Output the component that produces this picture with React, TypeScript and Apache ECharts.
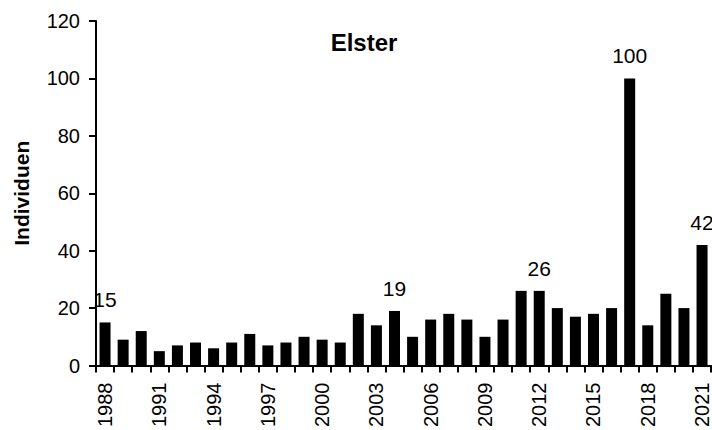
import React, { useEffect, useRef } from "react";
import * as echarts from "echarts";

const years: string[] = [
  "1988", "1989", "1990", "1991", "1992", "1993", "1994", "1995", "1996", "1997",
  "1998", "1999", "2000", "2001", "2002", "2003", "2004", "2005", "2006", "2007",
  "2008", "2009", "2010", "2011", "2012", "2013", "2014", "2015", "2016", "2017",
  "2018", "2019", "2020", "2021",
];
const individuals: number[] = [
  15, 9, 12, 5, 7, 8, 6, 8, 11, 7,
  8, 10, 9, 8, 18, 14, 19, 10, 16, 18,
  16, 10, 16, 26, 26, 20, 17, 18, 20, 100,
  14, 25, 20, 42,
];
const labeledYears: string[] = ["1988", "2004", "2012", "2017", "2021"];
const yTicks = { min: 0, max: 120, interval: 20 };
const titleText = "Elster";
const yAxisName = "Individuen";

const FONT = "'Liberation Sans', Arial, sans-serif";

export default function App() {
  const ref = useRef<HTMLDivElement>(null);
  useEffect(() => {
    if (!ref.current) return;
    const chart = echarts.init(ref.current, undefined, { renderer: "svg" });
    chart.setOption({
      animation: false,
      backgroundColor: "#ffffff",
      title: {
        text: titleText,
        left: 359,
        top: 25,
        textAlign: "center",
        textStyle: { fontFamily: FONT, fontSize: 24, fontWeight: "bold", color: "#000" },
      },
      grid: { left: 96, top: 21, width: 618, height: 345, containLabel: false },
      xAxis: {
        type: "category",
        data: years,
        boundaryGap: true,
        axisLine: { lineStyle: { color: "#000", width: 2 } },
        axisTick: { show: true, interval: 0, length: 7, lineStyle: { color: "#000", width: 2 } },
        axisLabel: {
          interval: 2,
          rotate: 90,
          margin: 17,
          fontFamily: FONT,
          fontSize: 20,
          color: "#000",
        },
      },
      yAxis: {
        type: "value",
        min: yTicks.min,
        max: yTicks.max,
        interval: yTicks.interval,
        name: yAxisName,
        nameLocation: "middle",
        nameGap: 64,
        nameTextStyle: { fontFamily: FONT, fontSize: 21, fontWeight: "bold", color: "#000" },
        axisLine: { show: true, lineStyle: { color: "#000", width: 2 } },
        axisTick: { show: true, length: 7, lineStyle: { color: "#000", width: 2 } },
        axisLabel: { margin: 16, fontFamily: FONT, fontSize: 20, color: "#000" },
        splitLine: { show: false },
      },
      series: [
        {
          type: "bar",
          barWidth: 11,
          itemStyle: { color: "#000" },
          data: individuals.map((v, i) => ({
            value: v,
            label: {
              show: labeledYears.includes(years[i]),
              position: "top",
              distance: 12,
              fontFamily: FONT,
              fontSize: 21,
              color: "#000",
            },
          })),
        },
      ],
    });
    return () => chart.dispose();
  }, []);
  return <div ref={ref} style={{ width: 712, height: 430, position: "absolute", left: 0, top: 0 }} />;
}
